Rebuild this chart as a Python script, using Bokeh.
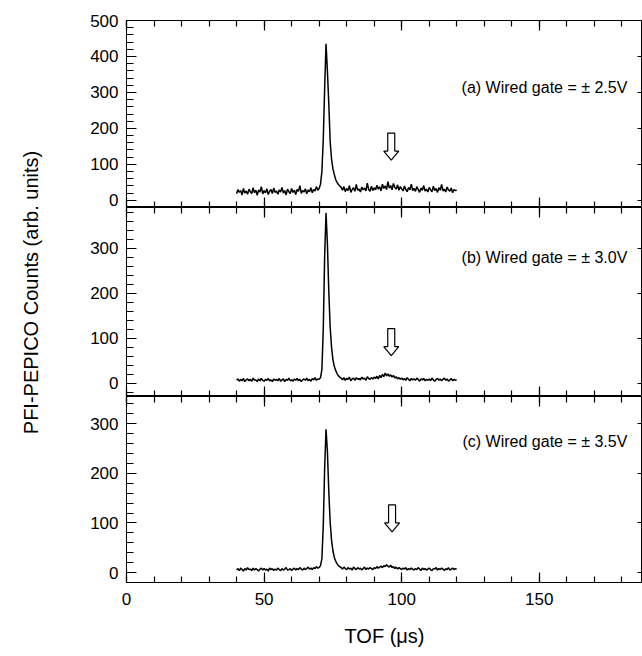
import numpy as np
from bokeh.plotting import figure
from bokeh.layouts import column, row
from bokeh.models import Range1d, LinearAxis, SingleIntervalTicker
from bokeh.core.properties import value
from bokeh.embed import file_html
from bokeh.resources import INLINE

# ---------------- data ----------------
TOF_START = 40.0
TOF_STEP = 0.5

COUNTS_A = [
    18, 30, 22, 27, 15, 33, 20, 26, 17, 31,
    24, 19, 35, 21, 28, 14, 29, 23, 38, 18,
    27, 21, 32, 16, 25, 30, 19, 34, 22, 26,
    17, 29, 23, 36, 20, 27, 15, 31, 24, 19,
    33, 22, 28, 16, 30, 25, 41, 19, 27, 23,
    32, 18, 29, 24, 35, 21, 30, 26, 38, 28,
    33, 45, 80, 170, 310, 435, 360, 270, 165, 115, 88, 72, 58, 50, 44, 40,
    36, 28, 38, 24,
    33, 27, 41, 22, 30, 35, 25, 44, 28, 31,
    23, 37, 29, 34, 26, 48, 30, 25, 39, 27,
    35, 29, 42, 31, 38, 26, 45, 33, 40, 30,
    52, 34, 41, 29, 47, 36, 31, 43, 28, 38,
    32, 26, 40, 30, 24, 36, 29, 45, 27, 33,
    25, 38, 30, 22, 34, 28, 41, 26, 31, 23,
    36, 29, 24, 39, 27, 33, 22, 35, 28, 44,
    26, 31, 23, 37, 29, 25, 34, 21, 30, 27,
    28,
]

COUNTS_B = [
    6, 9, 4, 8, 5, 10, 3, 7, 9, 5,
    8, 4, 11, 6, 7, 3, 9, 5, 10, 6,
    4, 8, 6, 10, 5, 7, 3, 9, 6, 8,
    5, 10, 4, 7, 9, 3, 8, 6, 11, 5,
    7, 4, 9, 6, 10, 5, 8, 3, 7, 9,
    6, 11, 5, 8, 4, 10, 7, 12, 6, 9,
    8, 12, 30, 120, 280, 378, 310, 205, 125, 80, 52, 37, 28, 21, 16, 13,
    11, 7, 12, 6,
    10, 8, 13, 5, 9, 11, 6, 12, 8, 10,
    7, 13, 9, 11, 6, 14, 10, 8, 12, 9,
    13, 10, 15, 9, 17, 12, 19, 14, 22, 16,
    20, 15, 18, 13, 17, 11, 14, 9, 12, 8,
    11, 7, 10, 6, 12, 8, 5, 10, 7, 9,
    6, 11, 8, 4, 9, 7, 10, 5, 8, 6,
    9, 5, 11, 7, 4, 8, 10, 6, 9, 5,
    8, 11, 6, 9, 4, 7, 10, 5, 8, 6,
    7,
]

COUNTS_C = [
    5, 8, 4, 9, 6, 3, 8, 5, 10, 6,
    7, 4, 9, 5, 8, 6, 3, 7, 9, 5,
    8, 5, 7, 3, 9, 6, 8, 4, 7, 5,
    9, 6, 4, 8, 5, 7, 10, 5, 6, 8,
    4, 7, 9, 5, 8, 6, 10, 7, 5, 9,
    6, 8, 11, 7, 9, 6, 10, 8, 12, 9,
    10, 14, 28, 95, 210, 289, 245, 165, 102, 66, 44, 31, 23, 18, 14, 12,
    10, 7, 11, 8,
    6, 10, 7, 9, 5, 11, 8, 6, 10, 7,
    9, 5, 8, 11, 6, 9, 7, 10, 8, 6,
    10, 8, 12, 9, 11, 13, 10, 14, 12, 16,
    13, 11, 15, 10, 12, 8, 11, 7, 10, 8,
    6, 9, 7, 10, 5, 8, 6, 9, 7, 5,
    8, 6, 10, 7, 4, 9, 6, 8, 5, 7,
    9, 6, 4, 8, 7, 10, 5, 8, 6, 9,
    7, 4, 8, 6, 10, 5, 7, 9, 6, 8,
    7,
]

PANEL_LABELS = [
    "(a) Wired gate = \u00b1 2.5V",
    "(b) Wired gate = \u00b1 3.0V",
    "(c) Wired gate = \u00b1 3.5V",
]
Y_RANGES = [(-20, 500), (-30, 390), (-20, 355)]
LABEL_X = 182.0
LABEL_Y = [313, 280, 264]
ARROW_X = [96.2, 96.2, 96.5]
ARROW_TIP_Y = [112, 61, 82]
X_RANGE = (0, 187.5)
X_TITLE = "TOF (\u03bcs)"
Y_TITLE = "PFI-PEPICO Counts (arb. units)"

# ---------------- layout constants ----------------
FRAME_W = 516
FRAME_H = [187, 189, 186]
TITLE_W = 60
TITLE_H = 600
TITLE_CENTER_FROM_TOP = 292
FONT = "Liberation Sans"

tof = TOF_START + TOF_STEP * np.arange(len(COUNTS_A))
series = [COUNTS_A, COUNTS_B, COUNTS_C]
x_range = Range1d(*X_RANGE)


def style_axis(ax, show_labels, major_in, minor_in):
    ax.major_tick_in = major_in
    ax.major_tick_out = 0
    ax.minor_tick_in = minor_in
    ax.minor_tick_out = 0
    ax.axis_line_color = "black"
    ax.axis_line_width = 1
    ax.major_tick_line_color = "black"
    ax.major_tick_line_width = 1.2
    ax.minor_tick_line_color = "black" if minor_in > 0 else None
    ax.minor_tick_line_width = 1.2
    ax.major_label_text_font = FONT
    ax.major_label_text_color = "black"
    if show_labels:
        ax.major_label_text_font_size = "17px"
        ax.major_label_standoff = 8
    else:
        ax.major_label_text_font_size = "1px"
        ax.major_label_text_color = None
        ax.major_label_standoff = 0


panels = []
for i in range(3):
    y0, y1 = Y_RANGES[i]
    p = figure(
        frame_width=FRAME_W, frame_height=FRAME_H[i],
        x_range=x_range, y_range=Range1d(y0, y1),
        x_axis_location=None, y_axis_location=None,
        toolbar_location=None, output_backend="svg",
        min_border_left=126 - TITLE_W, min_border_right=0,
        min_border_top=20 if i == 0 else 0,
        min_border_bottom=0,
    )
    p.xgrid.visible = False
    p.ygrid.visible = False
    p.outline_line_color = "black"
    p.outline_line_width = 1
    p.background_fill_color = "white"
    p.border_fill_color = "white"

    bottom = LinearAxis(ticker=SingleIntervalTicker(interval=50, num_minor_ticks=5))
    style_axis(bottom, i == 2, 10, 6)
    if i == 2:
        bottom.major_label_standoff = 10
        bottom.axis_label = X_TITLE
        bottom.axis_label_text_font = FONT
        bottom.axis_label_text_font_size = "20px"
        bottom.axis_label_text_font_style = "normal"
        bottom.axis_label_text_color = "black"
        bottom.axis_label_standoff = 17
    p.add_layout(bottom, "below")

    top = LinearAxis(ticker=SingleIntervalTicker(interval=50, num_minor_ticks=5))
    style_axis(top, False, 10, 6)
    p.add_layout(top, "above")

    left = LinearAxis(ticker=SingleIntervalTicker(interval=100, num_minor_ticks=5))
    style_axis(left, True, 10, 7)
    p.add_layout(left, "left")

    right = LinearAxis(ticker=SingleIntervalTicker(interval=100, num_minor_ticks=1))
    style_axis(right, False, 5, 0)
    p.add_layout(right, "right")

    p.line(tof, series[i], line_color="black", line_width=1.5)

    # hollow down arrow, shape in pixels converted to data units
    sx = FRAME_W / (X_RANGE[1] - X_RANGE[0])
    sy = FRAME_H[i] / (y1 - y0)
    shape_px = [(-3.5, 27), (3.5, 27), (3.5, 9), (7.5, 9), (0, 0), (-7.5, 9), (-3.5, 9)]
    axs = [ARROW_X[i] + dx / sx for dx, dy in shape_px]
    ays = [ARROW_TIP_Y[i] + dy / sy for dx, dy in shape_px]
    p.patch(axs, ays, fill_color="white", line_color="black", line_width=1.2)

    p.text(x=[LABEL_X], y=[LABEL_Y[i]], text=[PANEL_LABELS[i]],
           text_font=value(FONT), text_font_size="16px",
           text_align="right", text_baseline="middle", text_color="black")
    panels.append(p)

# narrow figure holding the shared y-axis title
t = figure(width=TITLE_W, height=TITLE_H, x_range=Range1d(0, TITLE_W),
           y_range=Range1d(0, TITLE_H), x_axis_location=None, y_axis_location=None,
           toolbar_location=None, output_backend="svg",
           min_border_left=0, min_border_right=0, min_border_top=0, min_border_bottom=0)
t.xgrid.visible = False
t.ygrid.visible = False
t.outline_line_color = None
t.text(x=[30], y=[TITLE_H - TITLE_CENTER_FROM_TOP], text=[Y_TITLE], angle=np.pi / 2,
       text_font=value(FONT), text_font_size="20px",
       text_align="center", text_baseline="middle", text_color="black")

layout = row(t, column(*panels, spacing=0), spacing=0)
open("out.html", "w").write(file_html(layout, INLINE))
